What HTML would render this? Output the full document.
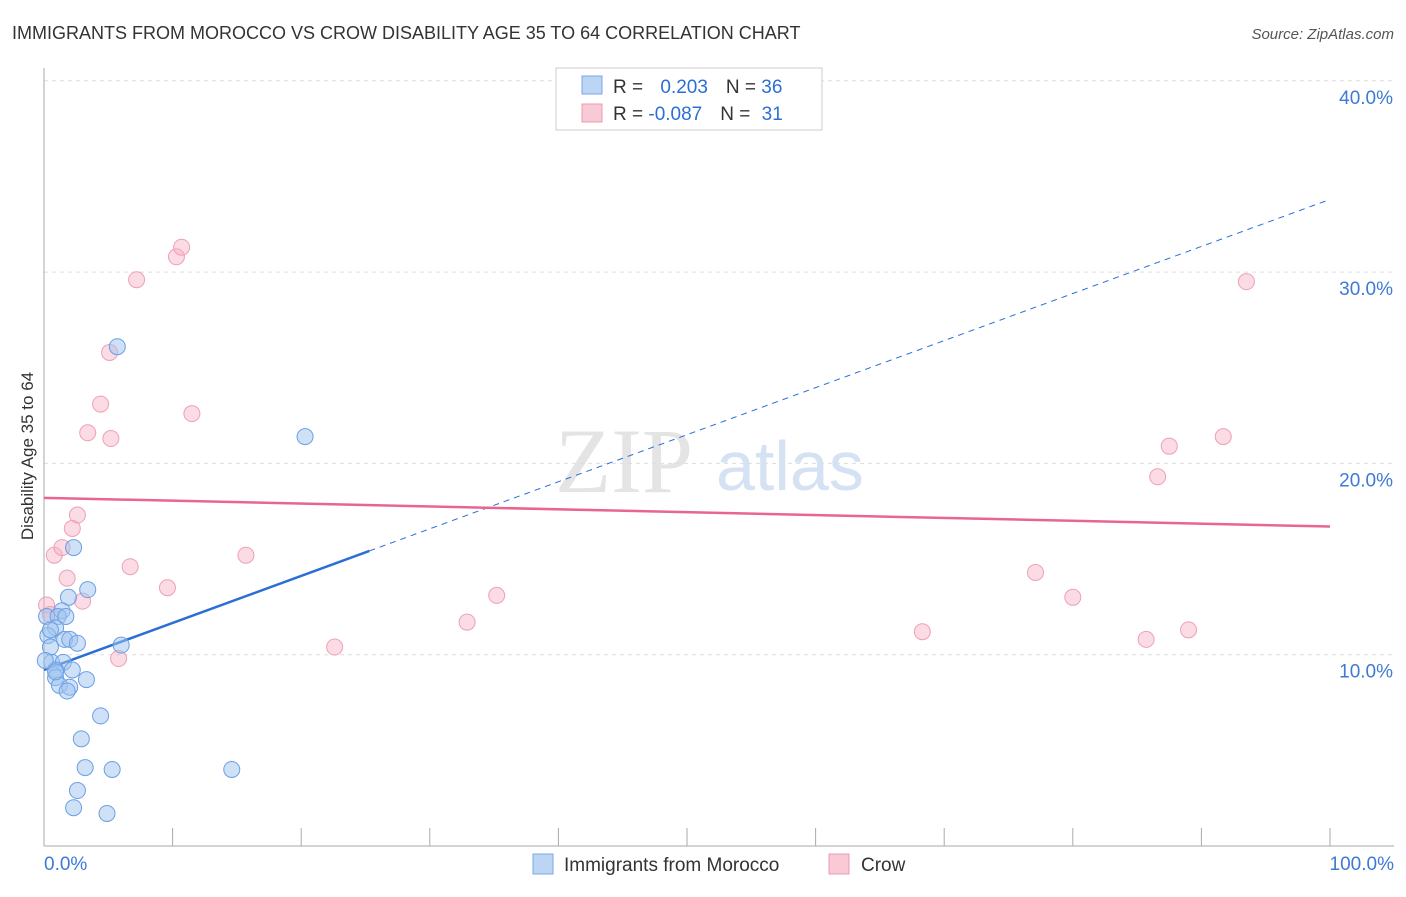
<!DOCTYPE html>
<html><head><meta charset="utf-8"><style>
body{margin:0;background:#fff;font-family:"Liberation Sans",sans-serif;}
</style></head><body>
<svg id="c" width="1406" height="892" xmlns="http://www.w3.org/2000/svg" font-family="Liberation Sans, sans-serif">
<text x="12" y="39" font-size="18" fill="#333">IMMIGRANTS FROM MOROCCO VS CROW DISABILITY AGE 35 TO 64 CORRELATION CHART</text>
<text x="1394" y="39" font-size="15" fill="#555" font-style="italic" text-anchor="end">Source: ZipAtlas.com</text>
<g>
<text x="555" y="492" font-size="92" fill="#e4e4e4" font-family="Liberation Serif, serif">ZIP</text>
<text x="716" y="490" font-size="70" fill="#d5e2f3">atlas</text>
</g>
<text transform="translate(33,456) rotate(-90)" font-size="17" fill="#333" text-anchor="middle">Disability Age 35 to 64</text>
<g id="grid"></g><g id="axes"></g><g id="lines"></g><g id="pts"></g>
<g>
<rect x="556" y="68" width="266" height="62" fill="#fff" stroke="#ccc"/>
<rect x="582" y="76" width="20" height="18" fill="#bcd5f5" stroke="#7aa7e6"/>
<rect x="582" y="104" width="20" height="18" fill="#f9c9d6" stroke="#ec9ab1"/>
<text x="613" y="93" font-size="19" fill="#333">R = <tspan fill="#2a6fd6" dx="12">0.203</tspan><tspan dx="18" fill="#333">N = </tspan><tspan fill="#2a6fd6">36</tspan></text>
<text x="613" y="120" font-size="19" fill="#333">R = <tspan fill="#2a6fd6">-0.087</tspan><tspan dx="18" fill="#333">N = </tspan><tspan fill="#2a6fd6" dx="6">31</tspan></text>
</g>
<g>
<rect x="533" y="854" width="20" height="20" fill="#bcd5f5" stroke="#7aa7e6"/>
<text x="564" y="871" font-size="19" fill="#333">Immigrants from Morocco</text>
<rect x="829" y="854" width="20" height="20" fill="#f9c9d6" stroke="#ec9ab1"/>
<text x="861" y="871" font-size="19" fill="#333">Crow</text>
</g>
</svg>
<script>
const blueX=[5.7,20.3,2.3,3.4,1.9,1.4,0.2,1.1,1.7,0.9,0.3,1.6,2.0,2.6,6.0,0.5,0.6,1.5,0.9,2.2,0.9,3.3,1.2,2.0,1.8,4.4,2.9,3.2,5.3,14.6,2.6,2.3,4.9,0.5,0.1,0.9];
const blueY=[26.1,21.4,15.6,13.4,13.0,12.3,12.0,12.0,12.0,11.4,11.0,10.8,10.8,10.6,10.5,10.4,9.6,9.6,9.2,9.2,8.8,8.7,8.4,8.3,8.1,6.8,5.6,4.1,4.0,4.0,2.9,2.0,1.7,11.3,9.7,9.1];
const pinkX=[0.8,1.4,2.6,2.2,1.8,3.0,0.2,0.5,5.8,5.1,4.4,3.4,5.2,7.2,10.3,10.7,11.5,6.7,9.6,15.7,22.6,32.9,35.2,68.3,77.1,80.0,85.7,89.0,86.6,87.5,91.7,93.5];
const pinkY=[15.2,15.6,17.3,16.6,14.0,12.8,12.6,12.1,9.8,25.8,23.1,21.6,21.3,29.6,30.8,31.3,22.6,14.6,13.5,15.2,10.4,11.7,13.1,11.2,14.3,13.0,10.8,11.3,19.3,20.9,21.4,29.5];
const yTicks=[10,20,30,40];
const yTickLabels=["10.0%","20.0%","30.0%","40.0%"];
const xTickLabels=["0.0%","100.0%"];
const blueTrend=[9.2,33.8];
const pinkTrend=[18.2,16.7];
const blueSolidEnd=25.3;
const NS="http://www.w3.org/2000/svg";
const sx=v=>44+v*12.86, sy=v=>846-v*19.13;
function mk(tag,attrs,parent){const e=document.createElementNS(NS,tag);for(const k in attrs)e.setAttribute(k,attrs[k]);document.getElementById(parent).appendChild(e);return e;}
yTicks.forEach((t,i)=>{
 const g=mk('line',{x1:44,x2:1394,y1:sy(t),y2:sy(t),stroke:'#ddd','stroke-dasharray':'4,4'},'grid');
 
 
 const l=mk('text',{x:1393,y:sy(t)+23,'font-size':19,fill:'#3d7ad6','text-anchor':'end'},'grid');
 l.textContent=yTickLabels[i];
 
 
});
const ax=mk('line',{x1:44,x2:44,y1:68,y2:846,stroke:'#aaa'},'axes');


const bx=mk('line',{x1:44,x2:1394,y1:846,y2:846,stroke:'#aaa'},'axes');


for(let i=0;i<=10;i++){const t=mk('line',{x1:sx(i*10),x2:sx(i*10),y1:828,y2:846,stroke:'#aaa'},'axes');
 
 }
[[0,'start',44],[100,'end',1394]].forEach((a,i)=>{const t=mk('text',{x:a[2],y:870,'font-size':19,fill:'#3d7ad6','text-anchor':a[1]},'axes');t.textContent=xTickLabels[i];
 
 });
const by=x=>blueTrend[0]+(blueTrend[1]-blueTrend[0])*x/100;
const l1=mk('line',{x1:sx(0),y1:sy(by(0)),x2:sx(blueSolidEnd),y2:sy(by(blueSolidEnd)),stroke:'#2a6fd6','stroke-width':2.5},'lines');


const l2=mk('line',{x1:sx(blueSolidEnd),y1:sy(by(blueSolidEnd)),x2:sx(100),y2:sy(by(100)),stroke:'#2a6fd6','stroke-width':1,'stroke-dasharray':'6,5'},'lines');


const l3=mk('line',{x1:sx(0),y1:sy(pinkTrend[0]),x2:sx(100),y2:sy(pinkTrend[1]),stroke:'#e86590','stroke-width':2.5},'lines');


pinkX.forEach((x,i)=>{const c=mk('circle',{cx:sx(x),cy:sy(pinkY[i]),r:8,fill:'rgba(246,176,196,0.45)',stroke:'#eea0b7','stroke-width':1},'pts');
 
 });
blueX.forEach((x,i)=>{const c=mk('circle',{cx:sx(x),cy:sy(blueY[i]),r:8,fill:'rgba(160,195,240,0.5)',stroke:'#6b9fe4','stroke-width':1},'pts');
 
 });
</script>
</body></html>
